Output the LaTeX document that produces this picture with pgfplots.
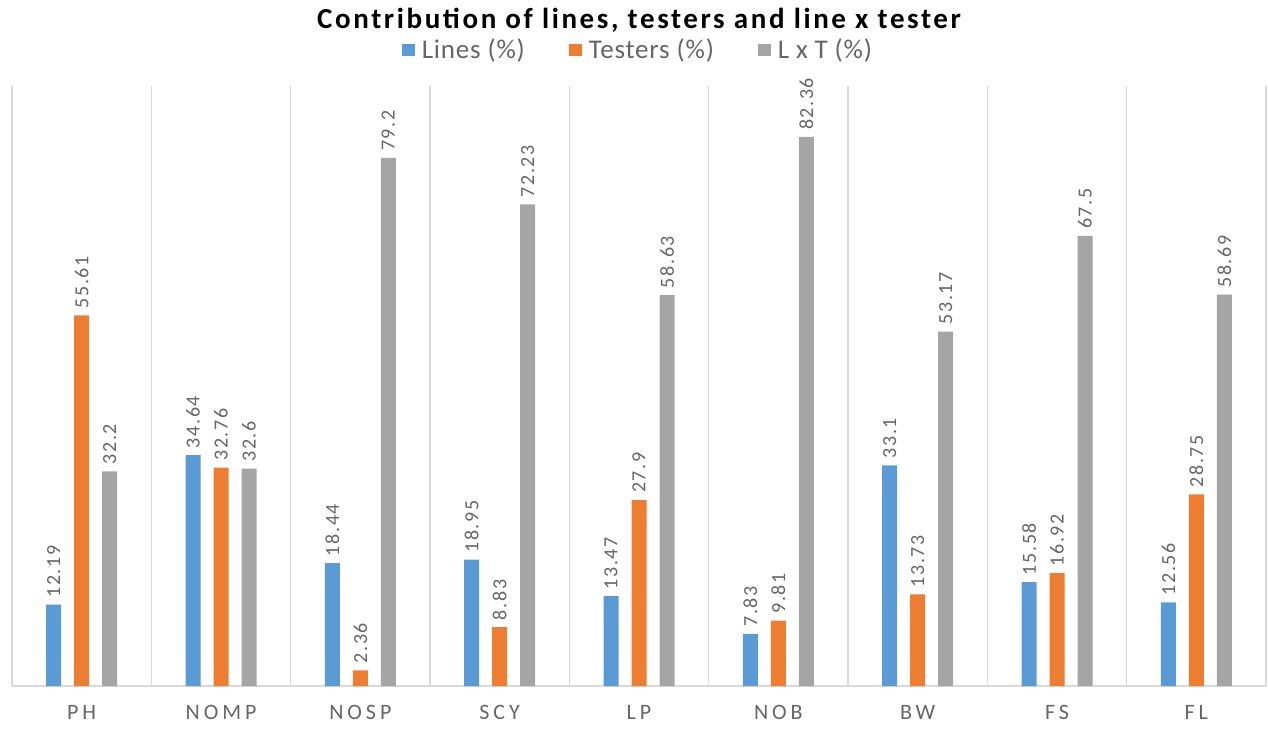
\documentclass[border=0pt]{standalone}
\usepackage{pgfplots}
\pgfplotsset{compat=1.18}
\usepackage{fontspec}
\setmainfont{Carlito}
\newfontfamily\tickfont[LetterSpace=18]{Carlito}
\newfontfamily\valfont[LetterSpace=8]{Carlito}
\newfontfamily\legfont[LetterSpace=3]{Carlito}
\newfontfamily\titlefont[LetterSpace=9]{Carlito}

\definecolor{cblue}{HTML}{5B9BD5}
\definecolor{corange}{HTML}{ED7D31}
\definecolor{cgray}{HTML}{A5A5A5}
\definecolor{gridc}{HTML}{D9D9D9}
\definecolor{txt}{HTML}{666666}

\begin{document}
\begin{tikzpicture}
\begin{axis}[
    scale only axis,
    width=627pt, height=300pt,
    ybar=6.5pt, bar width=7.5pt,
    ymin=0, ymax=90,
    xmin=-0.5, xmax=8.5,
    hide y axis,
    axis x line*=bottom,
    x axis line style={gridc, line width=0.8pt},
    xtick={0,...,8},
    xticklabels={PH,NOMP,NOSP,SCY,LP,NOB,BW,FS,FL},
    xticklabel style={font=\tickfont\fontsize{11}{13}\selectfont, text=txt, yshift=-6pt},
    major tick length=0pt,
    minor xtick={-0.5,0.5,...,8.5},
    minor tick length=0pt,
    xminorgrids,
    minor grid style={gridc, line width=0.7pt},
    /pgf/number format/assume math mode=true,
    nodes near coords,
    every node near coord/.append style={rotate=90, anchor=west, font=\valfont\fontsize{10}{12}\selectfont, text=txt},
    legend style={at={(0.5,1)}, anchor=center, yshift=18pt, draw=none,
        legend columns=3, font=\legfont\fontsize{13.5}{15}\selectfont, text=txt,
        /tikz/every odd column/.append style={column sep=1.5pt},
        /tikz/every even column/.append style={column sep=20pt}},
    legend image code/.code={\fill[#1] (0pt,-3.2pt) rectangle (6.4pt,3.2pt);},
    clip=false,
]
\addplot[fill=cblue, draw=none] coordinates {
(0,12.19) (1,34.64) (2,18.44) (3,18.95) (4,13.47) (5,7.83) (6,33.1) (7,15.58) (8,12.56)};
\addplot[fill=corange, draw=none] coordinates {
(0,55.61) (1,32.76) (2,2.36) (3,8.83) (4,27.9) (5,9.81) (6,13.73) (7,16.92) (8,28.75)};
\addplot[fill=cgray, draw=none] coordinates {
(0,32.2) (1,32.6) (2,79.2) (3,72.23) (4,58.63) (5,82.36) (6,53.17) (7,67.5) (8,58.69)};
\legend{Lines (\%), Testers (\%), L x T (\%)}
\end{axis}
\node[font=\titlefont\bfseries\fontsize{14.5}{16}\selectfont, text=black] at ([yshift=33pt]current axis.north) {Contribution of lines, testers and line x tester};
\pgfresetboundingbox
\path ([xshift=-6pt,yshift=-22.5pt]current axis.south west) rectangle ([xshift=1pt,yshift=43pt]current axis.north east);
\end{tikzpicture}
\end{document}
